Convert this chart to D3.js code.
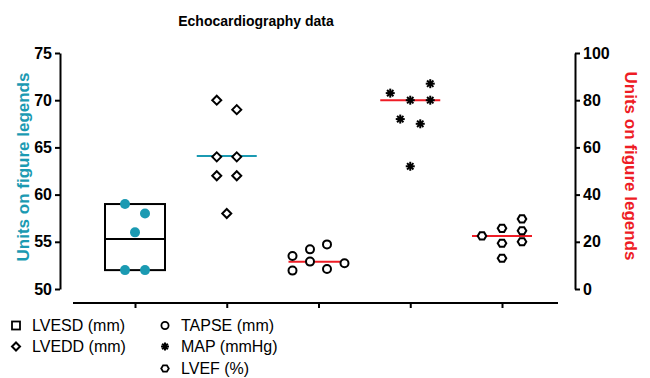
<!DOCTYPE html>
<html>
<head>
<meta charset="utf-8">
<script src="https://cdn.jsdelivr.net/npm/d3@7"></script>
<style>
  html, body { margin: 0; padding: 0; background: #fff; }
  svg { display: block; font-family: "Liberation Sans", Arial, Helvetica, sans-serif; }
</style>
</head>
<body>
<svg id="chart" width="650" height="378"></svg>
<script>
// ---------------- data ----------------
const categories = ["LVESD", "LVEDD", "TAPSE", "MAP", "LVEF"];
const lvesdValues = [59, 58, 56, 52, 52];
const lvesdColumn = [-1, 1, 0, -1, 1];
const lveddValues = [70, 69, 64, 64, 62, 62, 58];
const lveddColumn = [-1, 1, -1, 1, -1, 1, 0];
const tapseValues = [14.0, 7.8, 16.8, 11.6, 18.9, 8.5, 10.9];
const tapseColumn = [-2.6, -2.6, -0.85, -0.85, 0.85, 0.85, 2.6];
const mapValues = [83, 80, 87, 80, 72, 70, 52];
const mapColumn = [-2, 0, 2, 2, -1, 1, 0];
const lvefValues = [22.5, 25.7, 19.4, 13.0, 29.7, 24.7, 20.0];
const lvefColumn = [-2, 0, 0, 0, 2, 2, 2];
const centerLineValues = [55.3, 64.1, 11.5, 80, 22.5];
const leftTicks = [50, 55, 60, 65, 70, 75];
const rightTicks = [0, 20, 40, 60, 80, 100];
const legendLabels = ["LVESD (mm)", "LVEDD (mm)", "TAPSE (mm)", "MAP (mmHg)", "LVEF (%)"];
const titleText = "Echocardiography data";
const axisTitle = "Units on figure legends";

// ---------------- layout ----------------
const teal = "#1b9ab2";
const red = "#ee1c25";
const svg = d3.select("#chart");

const x = d3.scalePoint().domain(categories).range([135, 502]);
const jitter = d3.scaleLinear().domain([-1, 1]).range([-10, 10]);
const yL = d3.scaleLinear().domain([50, 75]).range([289, 53]);
const yR = d3.scaleLinear().domain([0, 100]).range([289, 53]);

// title
svg.append("text").attr("x", 256).attr("y", 26).attr("text-anchor", "middle")
  .attr("font-weight", "bold").attr("font-size", 14).text(titleText);

// axes
function styleAxis(g) {
  g.selectAll("path.domain").attr("stroke", "#000").attr("stroke-width", 2);
  g.selectAll(".tick line").attr("stroke", "#000").attr("stroke-width", 2);
  g.selectAll(".tick text").attr("font-size", 16).attr("font-weight", "bold")
    .attr("fill", "#000").attr("font-family", "Liberation Sans, Arial, sans-serif");
}
const gL = svg.append("g").attr("transform", "translate(60,0)")
  .call(d3.axisLeft(yL).tickValues(leftTicks).tickSize(5).tickSizeOuter(0).tickPadding(3));
styleAxis(gL);
const gR = svg.append("g").attr("transform", "translate(575,0)")
  .call(d3.axisRight(yR).tickValues(rightTicks).tickSize(5).tickSizeOuter(0).tickPadding(3));
styleAxis(gR);

// bottom axis
svg.append("line").attr("x1", 73).attr("x2", 558).attr("y1", 303).attr("y2", 303)
  .attr("stroke", "#000").attr("stroke-width", 2);
const gB = svg.append("g").attr("transform", "translate(0,303)")
  .call(d3.axisBottom(x).tickSize(5).tickSizeOuter(0).tickFormat(""));
gB.select("path.domain").remove();
styleAxis(gB);

// axis titles
svg.append("text").attr("transform", "translate(23,167) rotate(-90)")
  .attr("text-anchor", "middle").attr("dy", "0.36em")
  .attr("font-weight", "bold").attr("font-size", 17).attr("fill", teal).text(axisTitle);
svg.append("text").attr("transform", "translate(631,166) rotate(90)")
  .attr("text-anchor", "middle").attr("dy", "0.36em")
  .attr("font-weight", "bold").attr("font-size", 17).attr("fill", red).text(axisTitle);

// symbol generators
const diamondPath = (r) => `M0,${-r}L${r},0L0,${r}L${-r},0Z`;
const hexPath = (r) => {
  const pts = d3.range(6).map(i => {
    const a = Math.PI / 3 * i;
    return [r * Math.cos(a), r * Math.sin(a) * 0.95];
  });
  return "M" + pts.map(p => p.join(",")).join("L") + "Z";
};
function drawAsterisk(g, cx, cy, r) {
  const s = g.append("g").attr("transform", `translate(${cx},${cy})`);
  d3.range(4).forEach(i => {
    const a = Math.PI / 4 * i;
    s.append("line").attr("x1", -r * Math.cos(a)).attr("y1", -r * Math.sin(a))
      .attr("x2", r * Math.cos(a)).attr("y2", r * Math.sin(a))
      .attr("stroke", "#000").attr("stroke-width", 2);
  });
  s.append("circle").attr("r", r * 0.55).attr("fill", "#000");
}

// LVESD box (min-max) with center line
const cx0 = x(categories[0]);
const boxW = 60;
svg.append("rect").attr("x", cx0 - boxW / 2).attr("width", boxW)
  .attr("y", yL(d3.max(lvesdValues))).attr("height", yL(d3.min(lvesdValues)) - yL(d3.max(lvesdValues)))
  .attr("fill", "none").attr("stroke", "#000").attr("stroke-width", 2);
svg.append("line").attr("x1", cx0 - boxW / 2).attr("x2", cx0 + boxW / 2)
  .attr("y1", yL(centerLineValues[0])).attr("y2", yL(centerLineValues[0]))
  .attr("stroke", "#000").attr("stroke-width", 2);

// center lines for other groups
const lineColors = [null, teal, red, red, red];
const lineScales = [yL, yL, yR, yR, yR];
[1, 2, 3, 4].forEach(i => {
  const c = x(categories[i]);
  svg.append("line").attr("x1", c - 30).attr("x2", c + 30)
    .attr("y1", lineScales[i](centerLineValues[i])).attr("y2", lineScales[i](centerLineValues[i]))
    .attr("stroke", lineColors[i]).attr("stroke-width", 2);
});

// points
lvesdValues.forEach((v, i) => {
  svg.append("circle").attr("cx", cx0 + jitter(lvesdColumn[i])).attr("cy", yL(v))
    .attr("r", 5).attr("fill", teal);
});
const cx1 = x(categories[1]);
lveddValues.forEach((v, i) => {
  svg.append("path").attr("d", diamondPath(4.5))
    .attr("transform", `translate(${cx1 + jitter(lveddColumn[i])},${yL(v)})`)
    .attr("fill", "#fff").attr("stroke", "#000").attr("stroke-width", 2);
});
const cx2 = x(categories[2]);
tapseValues.forEach((v, i) => {
  svg.append("circle").attr("cx", cx2 + jitter(tapseColumn[i])).attr("cy", yR(v))
    .attr("r", 4).attr("fill", "#fff").attr("stroke", "#000").attr("stroke-width", 2);
});
const cx3 = x(categories[3]);
mapValues.forEach((v, i) => drawAsterisk(svg, cx3 + jitter(mapColumn[i]), yR(v), 4.5));
const cx4 = x(categories[4]);
lvefValues.forEach((v, i) => {
  svg.append("path").attr("d", hexPath(4.3))
    .attr("transform", `translate(${cx4 + jitter(lvefColumn[i])},${yR(v)})`)
    .attr("fill", "#fff").attr("stroke", "#000").attr("stroke-width", 2);
});

// legend
const legendPos = [[16, 331], [16, 352], [165, 331], [165, 352], [165, 374]];
legendLabels.forEach((lab, i) => {
  const [lx, ly] = legendPos[i];
  const sy = ly - 5.5;
  if (i === 0) {
    svg.append("rect").attr("x", lx - 4).attr("y", sy - 4).attr("width", 8).attr("height", 8)
      .attr("fill", "none").attr("stroke", "#000").attr("stroke-width", 1.8);
  } else if (i === 1) {
    svg.append("path").attr("d", diamondPath(4)).attr("transform", `translate(${lx},${sy})`)
      .attr("fill", "none").attr("stroke", "#000").attr("stroke-width", 2);
  } else if (i === 2) {
    svg.append("circle").attr("cx", lx).attr("cy", sy).attr("r", 3.6)
      .attr("fill", "none").attr("stroke", "#000").attr("stroke-width", 1.8);
  } else if (i === 3) {
    drawAsterisk(svg, lx, sy, 4);
  } else {
    svg.append("path").attr("d", hexPath(3.8)).attr("transform", `translate(${lx},${sy})`)
      .attr("fill", "none").attr("stroke", "#000").attr("stroke-width", 1.8);
  }
  svg.append("text").attr("x", lx + 16).attr("y", ly).attr("font-size", 16)
    .attr("fill", "#000").text(lab);
});
</script>
</body>
</html>
